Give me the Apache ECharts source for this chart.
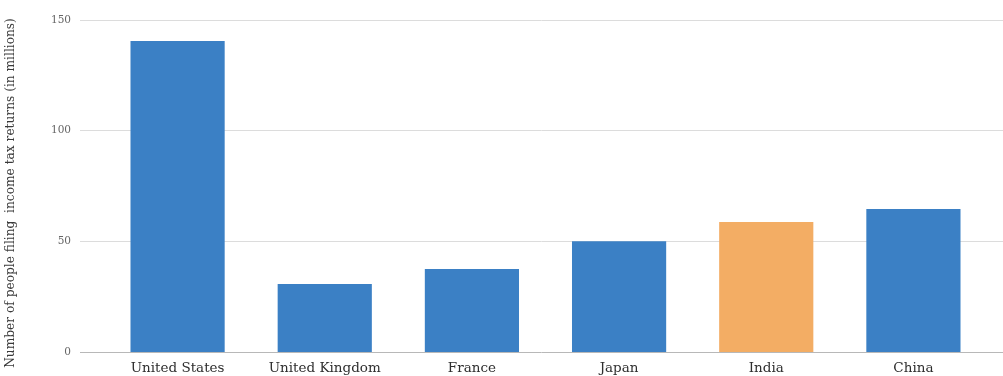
<!DOCTYPE html>
<html>
<head>
<meta charset="utf-8">
<script src="https://cdn.jsdelivr.net/npm/echarts@6/dist/echarts.min.js"></script>
<style>
  html, body { margin: 0; padding: 0; background: #fff; }
  #chart { width: 1003px; height: 376px; }
</style>
</head>
<body>
<div id="chart"></div>
<script>
// Countries and people filing income tax returns (millions)
const countries = ['United States', 'United Kingdom', 'France', 'Japan', 'India', 'China'];
const filers = [140.5, 30.7, 37.5, 50, 58.7, 64.6];
const highlighted = 'India';
const yTicks = { min: 0, max: 150, interval: 50 };

const blue = '#3b80c5';
const orange = '#f3ad64';
const serif = '"DejaVu Serif", "Liberation Serif", serif';

const chart = echarts.init(document.getElementById('chart'));
chart.setOption({
  animation: false,
  backgroundColor: '#ffffff',
  grid: [
    // value grid: gridlines and y labels across the full width
    { left: 80, right: 0, top: 20, bottom: 24, outerBoundsMode: 'none', containLabel: false },
    // bar grid
    { left: 104, right: 16, top: 20, bottom: 24, outerBoundsMode: 'none', containLabel: false }
  ],
  xAxis: [
    { gridIndex: 0, type: 'value', show: false, min: 0, max: 1 },
    {
      gridIndex: 1,
      type: 'category',
      data: countries,
      axisLine: { show: false },
      axisTick: { show: false },
      axisLabel: {
        color: '#2e2e2e',
        fontFamily: serif,
        fontSize: 13.5,
        margin: 9
      }
    }
  ],
  yAxis: [
    {
      gridIndex: 0,
      type: 'value',
      min: yTicks.min,
      max: yTicks.max,
      interval: yTicks.interval,
      name: 'Number of people filing  income tax returns (in millions)',
      nameLocation: 'middle',
      nameGap: 63,
      nameTextStyle: { color: '#3a3a3a', fontFamily: serif, fontSize: 12.2, padding: [0, 14, 0, 0] },
      axisLine: { show: false },
      axisTick: { show: false },
      axisLabel: { color: '#666666', fontFamily: serif, fontSize: 10.5, margin: 9 },
      splitLine: {
        lineStyle: {
          color: ['#b8b8b8', '#dcdcdc', '#dcdcdc', '#dcdcdc'],
          width: 1
        }
      }
    },
    {
      gridIndex: 1,
      type: 'value',
      min: yTicks.min,
      max: yTicks.max,
      interval: yTicks.interval,
      show: false,
      splitLine: { show: false }
    }
  ],
  series: [
    {
      type: 'bar',
      xAxisIndex: 1,
      yAxisIndex: 1,
      barWidth: '64%',
      data: filers.map((v, i) => ({
        value: v,
        itemStyle: { color: countries[i] === highlighted ? orange : blue }
      }))
    }
  ]
});
</script>
</body>
</html>
